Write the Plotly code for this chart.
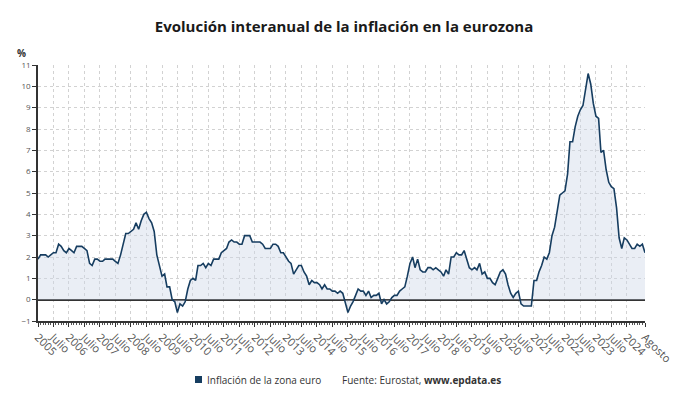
import plotly.graph_objects as go
import pandas as pd

# ---- data (euro area annual inflation, %, monthly Jan 2005 - Aug 2024) ----
infl_2005 = [1.9, 2.1, 2.1, 2.1, 2.0, 2.1, 2.2, 2.2, 2.6, 2.5, 2.3, 2.2]
infl_2006 = [2.4, 2.3, 2.2, 2.5, 2.5, 2.5, 2.4, 2.3, 1.7, 1.6, 1.9, 1.9]
infl_2007 = [1.8, 1.8, 1.9, 1.9, 1.9, 1.9, 1.8, 1.7, 2.1, 2.6, 3.1, 3.1]
infl_2008 = [3.2, 3.3, 3.6, 3.3, 3.7, 4.0, 4.1, 3.8, 3.6, 3.2, 2.1, 1.6]
infl_2009 = [1.1, 1.2, 0.6, 0.6, 0.0, -0.1, -0.6, -0.2, -0.3, -0.1, 0.5, 0.9]
infl_2010 = [1.0, 0.9, 1.6, 1.6, 1.7, 1.5, 1.7, 1.6, 1.9, 1.9, 1.9, 2.2]
infl_2011 = [2.3, 2.4, 2.7, 2.8, 2.7, 2.7, 2.6, 2.6, 3.0, 3.0, 3.0, 2.7]
infl_2012 = [2.7, 2.7, 2.7, 2.6, 2.4, 2.4, 2.4, 2.6, 2.6, 2.5, 2.2, 2.2]
infl_2013 = [2.0, 1.8, 1.7, 1.2, 1.4, 1.6, 1.6, 1.3, 1.1, 0.7, 0.9, 0.8]
infl_2014 = [0.8, 0.7, 0.5, 0.7, 0.5, 0.5, 0.4, 0.4, 0.3, 0.4, 0.3, -0.2]
infl_2015 = [-0.6, -0.3, -0.1, 0.2, 0.5, 0.4, 0.4, 0.2, 0.4, 0.1, 0.2, 0.2]
infl_2016 = [0.3, -0.2, 0.0, -0.2, -0.1, 0.1, 0.2, 0.2, 0.4, 0.5, 0.6, 1.1]
infl_2017 = [1.7, 2.0, 1.5, 1.9, 1.4, 1.3, 1.3, 1.5, 1.5, 1.4, 1.5, 1.4]
infl_2018 = [1.3, 1.1, 1.4, 1.2, 2.0, 2.0, 2.2, 2.1, 2.1, 2.3, 1.9, 1.5]
infl_2019 = [1.4, 1.5, 1.4, 1.7, 1.2, 1.3, 1.0, 1.0, 0.8, 0.7, 1.0, 1.3]
infl_2020 = [1.4, 1.2, 0.7, 0.3, 0.1, 0.3, 0.4, -0.2, -0.3, -0.3, -0.3, -0.3]
infl_2021 = [0.9, 0.9, 1.3, 1.6, 2.0, 1.9, 2.2, 3.0, 3.4, 4.1, 4.9, 5.0]
infl_2022 = [5.1, 5.9, 7.4, 7.4, 8.1, 8.6, 8.9, 9.1, 9.9, 10.6, 10.1, 9.2]
infl_2023 = [8.6, 8.5, 6.9, 7.0, 6.1, 5.5, 5.3, 5.2, 4.3, 2.9, 2.4, 2.9]
infl_2024 = [2.8, 2.6, 2.4, 2.4, 2.6, 2.5, 2.6, 2.2]

values = (infl_2005 + infl_2006 + infl_2007 + infl_2008 + infl_2009 + infl_2010 +
          infl_2011 + infl_2012 + infl_2013 + infl_2014 + infl_2015 + infl_2016 +
          infl_2017 + infl_2018 + infl_2019 + infl_2020 + infl_2021 + infl_2022 +
          infl_2023 + infl_2024)
months = pd.date_range("2005-01-01", periods=len(values), freq="MS")

# tick labels: January (year) and July of each year, last month "Agosto"
tick_dates = []
tick_labels = []
for yr in range(2005, 2025):
    tick_dates.append(f"{yr}-01-01")
    tick_labels.append(str(yr))
    if yr < 2024:
        tick_dates.append(f"{yr}-07-01")
        tick_labels.append("Julio")
tick_dates.append("2024-08-01")
tick_labels.append("Agosto")

series_name = "Inflación de la zona euro"
title_text = "Evolución interanual de la inflación en la eurozona"
source_text = "Fuente: Eurostat, <b>www.epdata.es</b>"

LINE = "#163d60"
FONT = "Open Sans"
GRID = "#d2d2d2"

fig = go.Figure()
fig.add_trace(go.Scatter(
    x=months, y=values, mode="lines", name=series_name,
    line=dict(color=LINE, width=1.6),
    fill="tozeroy", fillcolor="rgba(205,215,230,0.42)",
    showlegend=False,
))

# page body has an 8px default margin: figure pixel = page pixel - OFF
OFF = 8
W, H = 690, 405
pw, ph = 607, 256
ml, mt = 38 - OFF, 65 - OFF
mr, mb = W - ml - pw, H - mt - ph

def px(xp):
    return (xp - OFF - ml) / pw

def py(yp):
    return (mt + ph - (yp - OFF)) / ph

fig.update_layout(
    width=W, height=H,
    margin=dict(l=ml, r=mr, t=mt, b=mb, autoexpand=False),
    paper_bgcolor="white", plot_bgcolor="white",
    font=dict(family=FONT, color="#444"),
    title=dict(text=f"<b>{title_text}</b>", x=(344 - OFF) / W, xanchor="center",
               y=1 - (27 - OFF) / H, yanchor="middle",
               font=dict(size=15, color="#1a1a1a", family=FONT)),
    xaxis=dict(
        type="date", automargin=False,
        range=[months[0], months[-1]],
        tickmode="array", tickvals=tick_dates, ticktext=tick_labels,
        tickangle=45, tickfont=dict(size=11, color="#555"),
        showline=True, linecolor="#333", linewidth=1.5,
        ticks="outside", ticklen=4, tickcolor="#333",
        showgrid=True, gridcolor=GRID, griddash="dot", gridwidth=1,
        minor=dict(ticks="outside", ticklen=2, tickcolor="#555",
                   dtick="M1", tick0="2005-01-01", showgrid=False),
        zeroline=False,
    ),
    yaxis=dict(
        automargin=False,
        range=[-1, 11], dtick=1, tick0=0,
        tickfont=dict(size=8, color="#555"),
        showline=True, linecolor="#333", linewidth=1.5,
        ticks="outside", ticklen=4, tickcolor="#333",
        showgrid=True, gridcolor=GRID, griddash="dot", gridwidth=1,
        zeroline=True, zerolinecolor="#333", zerolinewidth=1.5,
    ),
    shapes=[dict(type="rect", xref="paper", yref="paper",
                 x0=px(195), x1=px(202), y0=py(383), y1=py(376),
                 fillcolor="#163d60", line=dict(width=0))],
    annotations=[
        dict(text="<b>%</b>", xref="paper", yref="paper", x=px(21), y=py(53),
             xanchor="center", yanchor="middle", showarrow=False,
             font=dict(size=10, color="#333", family=FONT)),
        dict(text=series_name, xref="paper", yref="paper", x=px(205), y=py(380),
             xanchor="left", yanchor="middle", showarrow=False,
             font=dict(size=10, color="#333", family=FONT)),
        dict(text=source_text, xref="paper", yref="paper", x=px(340), y=py(380),
             xanchor="left", yanchor="middle", showarrow=False,
             font=dict(size=10, color="#333", family=FONT)),
    ],
)

fig.write_html("out.html")
